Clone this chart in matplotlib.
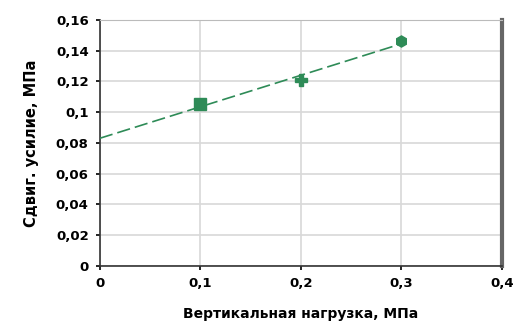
import matplotlib.pyplot as plt
import numpy as np

# vertical load vs shear force
load = [0.1, 0.2, 0.3]
shear = [0.105, 0.121, 0.146]
markers = ['s', 'P', 'h']

x_ticks = [0, 0.1, 0.2, 0.3, 0.4]
x_tick_labels = ['0', '0,1', '0,2', '0,3', '0,4']
y_ticks = [0, 0.02, 0.04, 0.06, 0.08, 0.1, 0.12, 0.14, 0.16]
y_tick_labels = ['0', '0,02', '0,04', '0,06', '0,08', '0,1', '0,12', '0,14', '0,16']

green = '#2e8b57'

fig = plt.figure(figsize=(5.17, 3.27), dpi=100)
ax = fig.add_axes([0.193, 0.187, 0.778, 0.752])

# linear trend from x=0 to the last point
k, b = np.polyfit(load, shear, 1)
xt = np.array([0, load[-1]])
ax.plot(xt, k * xt + b, color=green, lw=1.2, dashes=(8, 3), zorder=3)

for x, y, m in zip(load, shear, markers):
    ax.plot(x, y, marker=m, color=green, ms=8, ls='none', zorder=4)

ax.set_xlim(0, 0.4)
ax.set_ylim(0, 0.16)
ax.set_xticks(x_ticks)
ax.set_xticklabels(x_tick_labels)
ax.set_yticks(y_ticks)
ax.set_yticklabels(y_tick_labels)
ax.grid(True, color='#d8d8d8', lw=1.2)
ax.set_axisbelow(True)

for lab in ax.get_xticklabels() + ax.get_yticklabels():
    lab.set_fontweight('heavy')
    lab.set_fontsize(9.5)
ax.tick_params(length=3, width=1.2, color='black', pad=5)

ax.spines['left'].set_color('#333333')
ax.spines['bottom'].set_color('#333333')
ax.spines['left'].set_linewidth(1.2)
ax.spines['bottom'].set_linewidth(1.2)
ax.spines['top'].set_color('#bbbbbb')
ax.spines['right'].set_color('#666666')
ax.spines['right'].set_linewidth(3)

ax.set_xlabel('Вертикальная нагрузка, МПа', fontsize=10, fontweight='heavy', labelpad=12)
ax.set_ylabel('Сдвиг. усилие, МПа', fontsize=10.5, fontweight='heavy', labelpad=12)

fig.savefig('out.png', dpi=100)
